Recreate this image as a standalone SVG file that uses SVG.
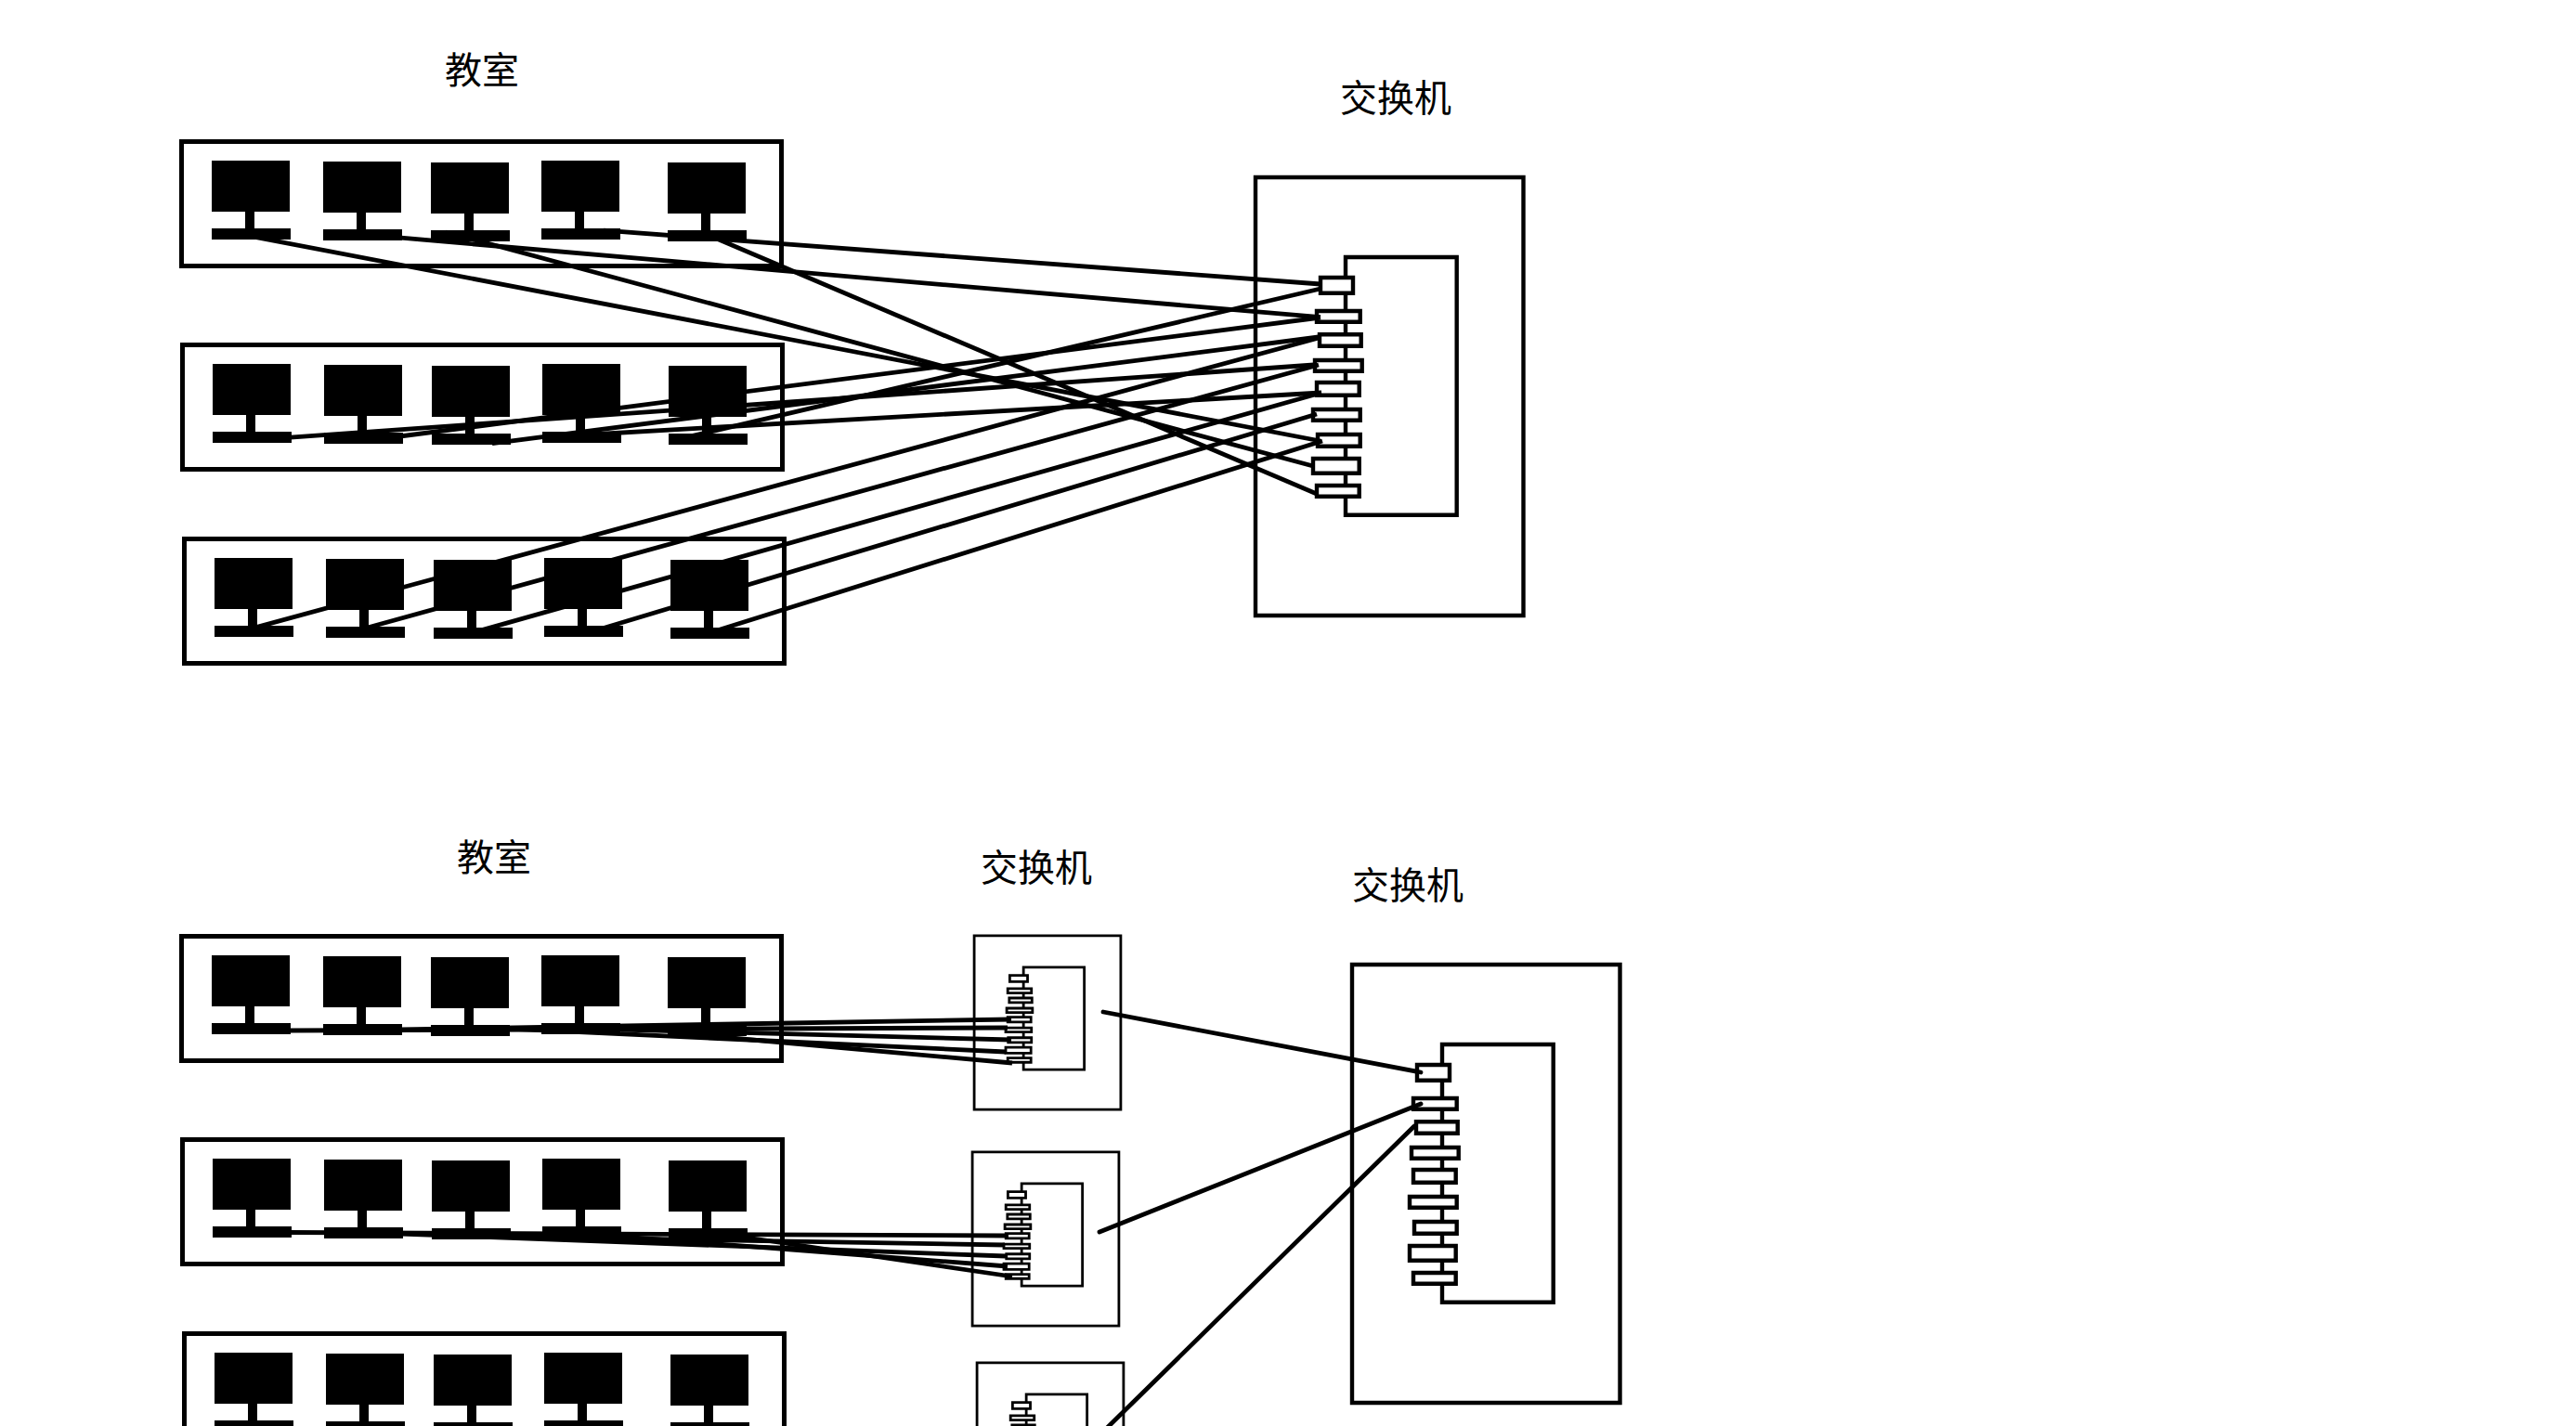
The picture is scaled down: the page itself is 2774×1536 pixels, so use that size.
<svg xmlns="http://www.w3.org/2000/svg" width="2774" height="1536" viewBox="0 0 2774 1536">
<style>
.bg{fill:#fff}
.label{font-family:"Noto Sans CJK SC","Liberation Sans",sans-serif;font-size:40px;fill:#000;text-anchor:middle}
.box{fill:#fff;stroke:#000;stroke-width:5}
.s{fill:#fff;stroke:#000;vector-effect:non-scaling-stroke}
.big{stroke-width:4.400}
.small{stroke-width:2.800}
.links line{stroke:#000;stroke-width:4.800;fill:none}
.links .up{stroke-width:4.800;stroke-linecap:round}
</style>
<defs>
<g id="pc"><rect width="84" height="55"/><rect x="36" y="55" width="10" height="18"/><rect y="73" width="85" height="12"/></g>
<g id="room">
<rect class="box" x="195.500" y="152.500" width="646" height="134"/>
<use href="#pc" x="228" y="173"/><use href="#pc" x="348" y="174"/><use href="#pc" x="464" y="175"/><use href="#pc" x="583" y="173"/><use href="#pc" x="719" y="175"/>
</g>
<g id="switch">
<rect class="s" x="2" y="2" width="288.500" height="472"/>
<rect class="s" x="99" y="88" width="119.700" height="277.700"/>
<rect class="s" x="72" y="110" width="35" height="16.700"/>
<rect class="s" x="68" y="146" width="46.700" height="11.700"/>
<rect class="s" x="71" y="171.300" width="44.700" height="12.400"/>
<rect class="s" x="66" y="199" width="50.700" height="11.700"/>
<rect class="s" x="68" y="223" width="45.700" height="13.700"/>
<rect class="s" x="64" y="252" width="50.700" height="11.700"/>
<rect class="s" x="69" y="279" width="45.700" height="12.700"/>
<rect class="s" x="64" y="305" width="49.700" height="15.700"/>
<rect class="s" x="68" y="334" width="45.700" height="11.700"/>
</g>
</defs>
<rect class="bg" width="2774" height="1536"/>
<text class="label" x="519" y="90">教室</text>
<text class="label" x="1503" y="120">交换机</text>
<text class="label" x="532" y="938">教室</text>
<text class="label" x="1116" y="949">交换机</text>
<text class="label" x="1516" y="968">交换机</text>
<g id="room-a1"><use href="#room"/></g>
<g id="room-a2"><use href="#room" x="1" y="219"/></g>
<g id="room-a3"><use href="#room" x="3" y="428"/></g>
<g id="room-b1"><use href="#room" y="856"/></g>
<g id="room-b2"><use href="#room" x="1" y="1075"/></g>
<g id="room-b3"><use href="#room" x="3" y="1284"/></g>
<g id="switch-a" class="big" transform="translate(1350 189)"><use href="#switch"/></g>
<g id="switch-core" class="big" transform="translate(1454 1037)"><use href="#switch"/></g>
<g id="switch-b1" class="small" transform="translate(1048 1007) scale(.547 .397)"><use href="#switch"/></g>
<g id="switch-b2" class="small" transform="translate(1046 1240) scale(.547 .397)"><use href="#switch"/></g>
<g id="switch-b3" class="small" transform="translate(1051 1467) scale(.547 .397)"><use href="#switch"/></g>
<g id="connectors" class="links">
<line x1="650" y1="248.200" x2="1422" y2="306"/>
<line x1="400" y1="253.400" x2="1422" y2="341.700"/>
<line x1="760" y1="252" x2="1418" y2="532"/>
<line x1="480" y1="250" x2="1414" y2="502"/>
<line x1="255" y1="251.600" x2="1422" y2="475"/>
<line x1="745" y1="469.700" x2="1422" y2="311"/>
<line x1="415" y1="472" x2="1422" y2="342"/>
<line x1="530" y1="477.600" x2="1420" y2="363"/>
<line x1="295" y1="472.300" x2="1415" y2="393"/>
<line x1="600" y1="470" x2="1423" y2="423"/>
<line x1="265" y1="678.600" x2="1420" y2="364"/>
<line x1="385" y1="679" x2="1420" y2="393"/>
<line x1="520" y1="678.400" x2="1423" y2="423"/>
<line x1="640" y1="679.500" x2="1418" y2="446"/>
<line x1="770" y1="679.700" x2="1424" y2="475"/>
<line x1="432" y1="1109" x2="1089" y2="1098"/>
<line x1="313" y1="1110" x2="1085" y2="1107"/>
<line x1="669" y1="1109" x2="1089" y2="1120"/>
<line x1="548" y1="1108" x2="1083" y2="1133"/>
<line x1="720" y1="1112" x2="1090" y2="1145"/>
<line x1="313" y1="1327.500" x2="1086" y2="1331"/>
<line x1="548" y1="1332" x2="1082" y2="1341"/>
<line x1="432" y1="1329" x2="1083" y2="1353"/>
<line x1="668" y1="1332" x2="1085" y2="1364"/>
<line x1="790" y1="1331" x2="1090" y2="1375"/>
<line class="up" x1="1188" y1="1090" x2="1530" y2="1155"/>
<line class="up" x1="1184" y1="1327" x2="1530" y2="1189"/>
<line class="up" x1="1185" y1="1545" x2="1523" y2="1213"/>
</g>
</svg>
